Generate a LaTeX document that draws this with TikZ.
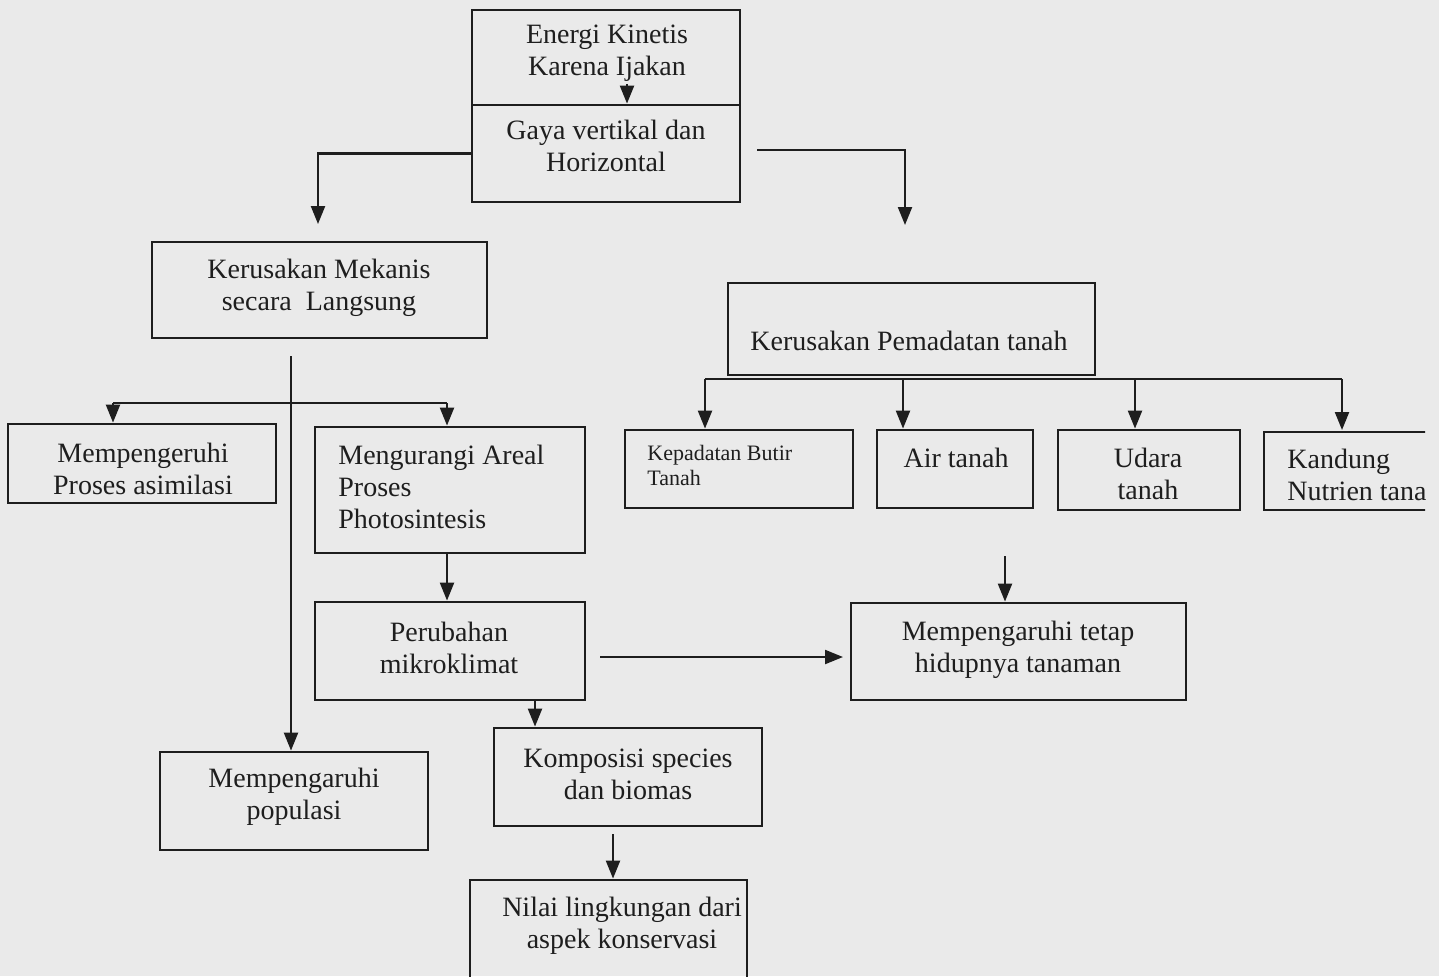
\documentclass[tikz,border=0pt]{standalone}
\usepackage{fontspec}
\setmainfont{Liberation Serif}
\usetikzlibrary{arrows.meta}
\definecolor{ink}{HTML}{1E1E1E}
\definecolor{paper}{HTML}{EAEAEA}
\tikzset{
  bx/.style={draw=ink, line width=1.4pt, inner sep=0pt},
  tx/.style={text=ink, inner sep=0pt, align=center, font=\fontsize{14}{16}\selectfont},
  txl/.style={tx, align=left, anchor=west},
  txs/.style={text=ink, inner sep=0pt, align=left, anchor=west, font=\fontsize{11}{12.5}\selectfont},
  arr/.style={draw=ink, line width=1.1pt, -{Triangle[length=9pt,width=7pt]}},
  ln/.style={draw=ink, line width=1.1pt},
}
\begin{document}
\begin{tikzpicture}[x=0.5pt,y=-0.5pt]
\fill[paper] (0,0) rectangle (1439,976);
\useasboundingbox (0,0) rectangle (1439,976);

% boxes
\node[bx, minimum width=134pt, minimum height=47.5pt] (E) at (606,57.5) {};
\node[bx, minimum width=134pt, minimum height=48.5pt] (G) at (606,153.5) {};
\node[bx, minimum width=167.5pt, minimum height=48pt] (KM) at (319.5,290) {};
\node[bx, minimum width=183.5pt, minimum height=46pt] (KP) at (911.5,329) {};
\node[bx, minimum width=134pt, minimum height=39.5pt] (MA) at (142,463.5) {};
\node[bx, minimum width=135pt, minimum height=63pt] (MG) at (450,490) {};
\node[bx, minimum width=135pt, minimum height=49pt] (PM) at (450,651) {};
\node[bx, minimum width=134pt, minimum height=49pt] (MP) at (294,801) {};
\node[bx, minimum width=134pt, minimum height=49pt] (KS) at (628,777) {};
\node[bx, minimum width=138.5pt, minimum height=55pt] (NL) at (608.5,935) {};
\node[bx, minimum width=167.5pt, minimum height=48.5pt] (MT) at (1018.5,651.5) {};
\node[bx, minimum width=114pt, minimum height=39pt] (KB) at (739,469) {};
\node[bx, minimum width=78pt, minimum height=39pt] (AT) at (955,469) {};
\node[bx, minimum width=91pt, minimum height=40pt] (UT) at (1149,470) {};

% texts
\node[tx] (Et) at (607,53) {Energi Kinetis\\Karena Ijakan};
\node[tx] (Gt) at (606,146) {Gaya vertikal dan\\Horizontal};
\node[tx] (KMt) at (319,288) {Kerusakan Mekanis\\secara\ \ Langsung};
\node[tx] (KPt) at (909,341) {Kerusakan Pemadatan tanah};
\node[tx] (MAt) at (143,469) {Mempengeruhi\\Proses asimilasi};
\node[txl] (MGt) at (338,487) {Mengurangi Areal\\Proses\\Photosintesis};
\node[tx] (PMt) at (449,648) {Perubahan\\mikroklimat};
\node[tx] (MPt) at (294,797) {Mempengaruhi\\populasi};
\node[tx] (KSt) at (628,774) {Komposisi species\\dan biomas};
\node[tx] (NLt) at (622,926) {Nilai lingkungan dari\\aspek konservasi};
\node[tx] (MTt) at (1018,650) {Mempengaruhi tetap\\hidupnya tanaman};
\node[txs] (KBt) at (647,465) {Kepadatan Butir\\Tanah};
\node[tx] (ATt) at (956,458) {Air tanah};
\node[tx] (UTt) at (1148,474) {Udara\\tanah};

% Kandung box, cut at the page edge
\begin{scope}
  \clip (1200,400) rectangle (1425,540);
  \node[bx, minimum width=98pt, minimum height=39pt] (KN) at (1362,471) {};
  \node[txl] (KNt) at (1287,475) {Kandung\\Nutrien tanah};
\end{scope}

% connector coordinates
\coordinate (e1) at (627,84);
\coordinate (gL) at (318,224);
\coordinate (gR0) at (757,150);
\coordinate (gR) at (905,225);
\coordinate (km1) at (291,356);
\coordinate (bl) at (113,403);
\coordinate (br) at (447,403);
\coordinate (x535) at (535,0);
\coordinate (ks1) at (613,834);
\coordinate (pm1) at (600,657);
\coordinate (pm2) at (843,657);
\coordinate (kp0) at (705,379);
\coordinate (kp1) at (1342,379);
\coordinate (kpa) at (903,379);
\coordinate (kpu) at (1135,379);
\coordinate (kpn) at (1342,430);
\coordinate (mt0) at (1005,556);

% connectors
\draw[arr] (e1) -- (e1 |- G.north);
\draw[arr] (G.west) -| (gL);
\draw[arr] (gR0) -| (gR);
\draw[arr] (km1) -- (km1 |- MP.north);
\draw[ln] (bl) -- (br);
\draw[arr] (bl) -- (bl |- MA.north);
\draw[arr] (br) -- (br |- MG.north);
\draw[arr] (MG.south -| br) -- (br |- PM.north);
\draw[arr] (x535 |- PM.south) -- (x535 |- KS.north);
\draw[arr] (ks1) -- (ks1 |- NL.north);
\draw[arr] (pm1) -- (pm2);
\draw[ln] (kp0) -- (kp1);
\draw[arr] (kp0) -- (kp0 |- KB.north);
\draw[arr] (kpa) -- (kpa |- AT.north);
\draw[arr] (kpu) -- (kpu |- UT.north);
\draw[arr] (kp1) -- (kpn);
\draw[arr] (mt0) -- (mt0 |- MT.north);
\end{tikzpicture}
\end{document}
